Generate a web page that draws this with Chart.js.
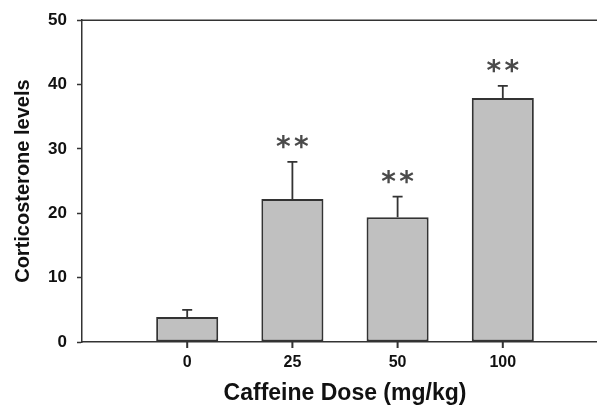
<!DOCTYPE html>
<html>
<head>
<meta charset="utf-8">
<script src="https://cdn.jsdelivr.net/npm/chart.js@4"></script>
<style>
  html, body { margin: 0; padding: 0; background: #fff; overflow: hidden; }
  #wrap { width: 620px; height: 405px; }
</style>
</head>
<body>
<div id="wrap"><canvas id="c" width="620" height="405"></canvas></div>
<script>
const doses = ['0', '25', '50', '100'];
const means = [3.9, 22.2, 19.4, 37.9];
const errors = [1.1, 5.8, 3.2, 1.9];
const significance = ['', '**', '**', '**'];
const yTicks = [0, 10, 20, 30, 40, 50];

const labels = [''].concat(doses, ['']);
const barData = [null].concat(means, [null]);
const errData = [null].concat(errors, [null]);
const sigData = [''].concat(significance, ['']);

const AXIS = '#333333';
const FONT = "'Liberation Sans', Arial, sans-serif";

const extrasPlugin = {
  id: 'extras',
  afterDatasetsDraw(chart) {
    const ctx = chart.ctx;
    const y = chart.scales.y;
    ctx.save();
    const meta = chart.getDatasetMeta(0);
    meta.data.forEach((bar, i) => {
      if (barData[i] == null) return;
      const top = y.getPixelForValue(barData[i] + errData[i]);
      const base = y.getPixelForValue(barData[i]);
      ctx.strokeStyle = AXIS;
      ctx.lineWidth = 1.8;
      ctx.beginPath();
      ctx.moveTo(bar.x, base);
      ctx.lineTo(bar.x, top);
      ctx.moveTo(bar.x - 5, top);
      ctx.lineTo(bar.x + 5, top);
      ctx.stroke();
      const s = sigData[i];
      if (s) {
        ctx.font = "bold 28px 'DejaVu Sans', sans-serif";
        ctx.fillStyle = '#4a4a4a';
        ctx.textAlign = 'center';
        ctx.textBaseline = 'alphabetic';
        const m = ctx.measureText('*');
        const off = (m.actualBoundingBoxAscent - m.actualBoundingBoxDescent) / 2;
        const cy = top - 20;
        const n = s.length;
        for (let k = 0; k < n; k++) {
          const cx = bar.x + (k - (n - 1) / 2) * 18;
          ctx.fillText('*', cx, cy + off);
        }
      }
    });
    ctx.restore();
  },
  afterDraw(chart) {
    const ctx = chart.ctx;
    const area = chart.chartArea;
    const x = chart.scales.x;
    ctx.save();
    ctx.strokeStyle = AXIS;
    ctx.lineWidth = 1.5;
    ctx.beginPath();
    ctx.moveTo(area.left - 0.75, area.top);
    ctx.lineTo(area.right, area.top);
    ctx.stroke();
    ctx.lineWidth = 2;
    ctx.beginPath();
    for (let i = 0; i < labels.length; i++) {
      if (labels[i] === '') continue;
      const px = x.getPixelForValue(i);
      ctx.moveTo(px, area.bottom);
      ctx.lineTo(px, area.bottom + 6);
    }
    ctx.stroke();
    ctx.restore();
  }
};

new Chart(document.getElementById('c'), {
  type: 'bar',
  data: {
    labels: labels,
    datasets: [{
      data: barData,
      backgroundColor: '#c0c0c0',
      borderColor: AXIS,
      borderWidth: 2,
      borderSkipped: false,
      categoryPercentage: 1,
      barPercentage: 0.59
    }]
  },
  options: {
    responsive: false,
    animation: false,
    devicePixelRatio: 1,
    layout: { padding: { top: 19, right: 12, bottom: 0, left: 0 } },
    plugins: { legend: { display: false }, tooltip: { enabled: false } },
    scales: {
      x: {
        type: 'category',
        offset: false,
        border: { display: true, color: AXIS, width: 1.5 },
        grid: {
          display: true,
          offset: false,
          drawOnChartArea: false,
          drawTicks: false
        },
        ticks: {
          padding: 11,
          color: '#111',
          font: { family: FONT, size: 16, weight: 'bold' },
          maxRotation: 0,
          autoSkip: false
        },
        title: {
          display: true,
          text: 'Caffeine Dose (mg/kg)',
          color: '#111',
          font: { family: FONT, size: 23, weight: 'bold', lineHeight: 1 },
          padding: { top: 0, bottom: 0 }
        },
        afterFit(scale) { scale.height = 405 - 342; }
      },
      y: {
        min: 0,
        max: 50,
        border: { display: true, color: AXIS, width: 1.5 },
        grid: {
          display: true,
          drawOnChartArea: false,
          drawTicks: true,
          tickLength: 5,
          tickWidth: 1.5,
          tickColor: AXIS
        },
        afterBuildTicks(scale) { scale.ticks = yTicks.map(v => ({ value: v })); },
        ticks: {
          padding: 10,
          color: '#111',
          font: { family: FONT, size: 17, weight: 'bold' }
        },
        title: {
          display: true,
          text: 'Corticosterone levels',
          color: '#111',
          font: { family: FONT, size: 20, weight: 'bold', lineHeight: 1 },
          padding: { top: 13, bottom: 0 }
        },
        afterFit(scale) { scale.width = 82; }
      }
    }
  },
  plugins: [extrasPlugin]
});
</script>
</body>
</html>
